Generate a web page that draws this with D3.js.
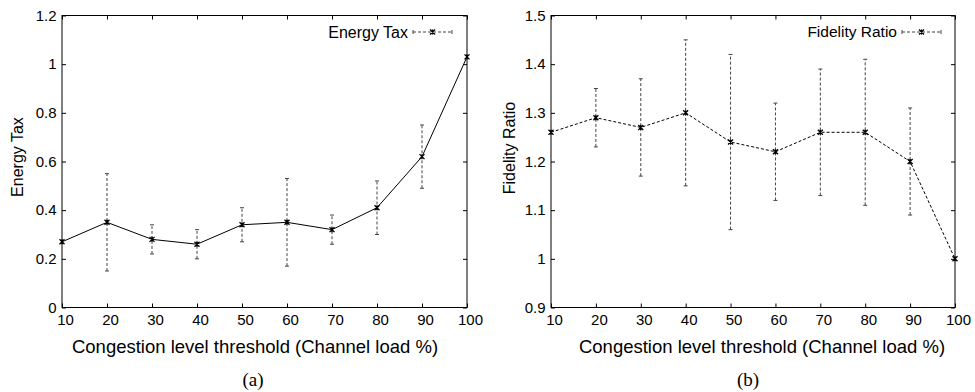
<!DOCTYPE html>
<html>
<head>
<meta charset="utf-8">
<script src="https://cdn.jsdelivr.net/npm/d3@7"></script>
<style>
  html, body { margin: 0; padding: 0; background: #fff; }
  svg { display: block; }
  text { font-family: "Liberation Sans", Arial, sans-serif; fill: #000; }
</style>
</head>
<body>
<svg id="chart" width="975" height="392"></svg>
<script>
// ---- data ----
const thresholds = [10, 20, 30, 40, 50, 60, 70, 80, 90, 100];
const xTicks = [10, 20, 30, 40, 50, 60, 70, 80, 90, 100];

const energyTax     = [0.27, 0.35, 0.28, 0.26, 0.34, 0.35, 0.32, 0.41, 0.62, 1.03];
const energyTaxLow  = [null, 0.15, 0.22, 0.20, 0.27, 0.17, 0.26, 0.30, 0.49, null];
const energyTaxHigh = [null, 0.55, 0.34, 0.32, 0.41, 0.53, 0.38, 0.52, 0.75, null];
const energyTicks   = [0, 0.2, 0.4, 0.6, 0.8, 1, 1.2];

const fidelity      = [1.26, 1.29, 1.27, 1.30, 1.24, 1.22, 1.26, 1.26, 1.20, 1.00];
const fidelityLow   = [null, 1.23, 1.17, 1.15, 1.06, 1.12, 1.13, 1.11, 1.09, null];
const fidelityHigh  = [null, 1.35, 1.37, 1.45, 1.42, 1.32, 1.39, 1.41, 1.31, null];
const fidelityTicks = [0.9, 1, 1.1, 1.2, 1.3, 1.4, 1.5];

const xTitle = "Congestion level threshold (Channel load %)";

const svg = d3.select("#chart");

function panel(cfg) {
  const g = svg.append("g");
  const x = d3.scaleLinear().domain([10, 100]).range([cfg.left, cfg.right]);
  const y = d3.scaleLinear().domain(cfg.yDomain).range([cfg.bottom, cfg.top]);
  const fmt = d => String(+d.toFixed(1));

  // axes with inward ticks on all four sides
  const bottomAx = g.append("g").attr("transform", `translate(0,${cfg.bottom})`)
      .call(d3.axisBottom(x).tickValues(xTicks).tickSizeInner(-4).tickSizeOuter(0).tickPadding(7).tickFormat(d3.format("d")));
  const ax = [
    bottomAx,
    g.append("g").attr("transform", `translate(0,${cfg.top})`)
      .call(d3.axisTop(x).tickValues(xTicks).tickSizeInner(-4).tickSizeOuter(0).tickFormat("")),
    g.append("g").attr("transform", `translate(${cfg.left},0)`)
      .call(d3.axisLeft(y).tickValues(cfg.yTicks).tickSizeInner(-4).tickSizeOuter(0).tickPadding(5.5).tickFormat(fmt)),
    g.append("g").attr("transform", `translate(${cfg.right},0)`)
      .call(d3.axisRight(y).tickValues(cfg.yTicks).tickSizeInner(-4).tickSizeOuter(0).tickFormat(""))
  ];
  ax.forEach(a => {
    a.select(".domain").remove();
    a.selectAll(".tick line").attr("stroke", "#000").attr("stroke-width", 1);
    a.selectAll(".tick text").style("font-size", "15px").attr("fill", "#000")
      .style("font-family", '"Liberation Sans", Arial, sans-serif');
  });
  bottomAx.selectAll(".tick text").attr("dx", 3);

  // frame
  g.append("rect")
    .attr("x", cfg.left).attr("y", cfg.top)
    .attr("width", cfg.right - cfg.left).attr("height", cfg.bottom - cfg.top)
    .attr("fill", "none").attr("stroke", "#000").attr("stroke-width", 1);

  const pts = thresholds.map((t, i) => ({ t, v: cfg.vals[i], lo: cfg.lows[i], hi: cfg.highs[i] }));

  // error bars
  const eb = g.append("g").attr("stroke", "#444").attr("stroke-width", 1);
  pts.filter(p => p.lo != null).forEach(p => {
    eb.append("line").attr("x1", x(p.t)).attr("x2", x(p.t)).attr("y1", y(p.lo)).attr("y2", y(p.hi))
      .attr("stroke-dasharray", "3,2");
    [p.lo, p.hi].forEach(v => {
      eb.append("line").attr("x1", x(p.t) - 2).attr("x2", x(p.t) + 2).attr("y1", y(v)).attr("y2", y(v));
    });
  });

  // line
  g.append("path").datum(pts)
    .attr("fill", "none").attr("stroke", "#000").attr("stroke-width", 1)
    .attr("stroke-dasharray", cfg.lineDash)
    .attr("d", d3.line().x(p => x(p.t)).y(p => y(p.v)));

  // markers
  const mk = (cx, cy) => {
    const s = 2.5;
    g.append("path")
      .attr("d", `M${cx - s},${cy - s}L${cx + s},${cy + s}M${cx - s},${cy + s}L${cx + s},${cy - s}M${cx},${cy - s}L${cx},${cy + s}`)
      .attr("stroke", "#000").attr("stroke-width", 1.3).attr("fill", "none");
  };
  pts.forEach(p => mk(x(p.t), y(p.v)));

  // legend
  g.append("text").attr("x", cfg.legX).attr("y", cfg.legY).attr("dy", "0.35em")
    .attr("text-anchor", "end").style("font-size", cfg.legFont + "px").text(cfg.name);
  const lx1 = cfg.legX + 5, lx2 = cfg.legX + 44, lm = (lx1 + lx2) / 2;
  g.append("line").attr("x1", lx1).attr("x2", lx2).attr("y1", cfg.legY).attr("y2", cfg.legY)
    .attr("stroke", "#444").attr("stroke-dasharray", "3,2");
  [lx1, lx2].forEach(xx => g.append("line").attr("x1", xx).attr("x2", xx)
    .attr("y1", cfg.legY - 2).attr("y2", cfg.legY + 2).attr("stroke", "#444"));
  mk(lm, cfg.legY);

  // y title
  g.append("text")
    .attr("transform", `translate(${cfg.yTitleX},${cfg.yTitleY}) rotate(-90)`)
    .attr("text-anchor", "middle").attr("dy", "0.35em")
    .style("font-size", "16px").text(cfg.yTitle);

  // x title
  g.append("text").attr("x", cfg.xTitleX).attr("y", 347).attr("dy", "0.35em")
    .attr("text-anchor", "middle").style("font-size", "18.5px").text(xTitle);

  // panel caption
  g.append("text").attr("x", cfg.capX).attr("y", 379).attr("dy", "0.35em")
    .attr("text-anchor", "middle")
    .style("font-family", '"Liberation Serif", "Times New Roman", serif')
    .style("font-size", "19px").text(cfg.caption);
}

panel({
  left: 62, right: 467, top: 15.5, bottom: 307.5,
  yDomain: [0, 1.2], yTicks: energyTicks,
  vals: energyTax, lows: energyTaxLow, highs: energyTaxHigh,
  lineDash: null,
  name: "Energy Tax", legX: 408, legY: 32, legFont: 16,
  yTitle: "Energy Tax", yTitleX: 17, yTitleY: 157,
  xTitleX: 255, caption: "(a)", capX: 253
});

panel({
  left: 551, right: 955, top: 15.5, bottom: 307.5,
  yDomain: [0.9, 1.5], yTicks: fidelityTicks,
  vals: fidelity, lows: fidelityLow, highs: fidelityHigh,
  lineDash: "3,2",
  name: "Fidelity Ratio", legX: 897, legY: 32, legFont: 15.5,
  yTitle: "Fidelity Ratio", yTitleX: 509, yTitleY: 148,
  xTitleX: 762, caption: "(b)", capX: 748
});
</script>
</body>
</html>
